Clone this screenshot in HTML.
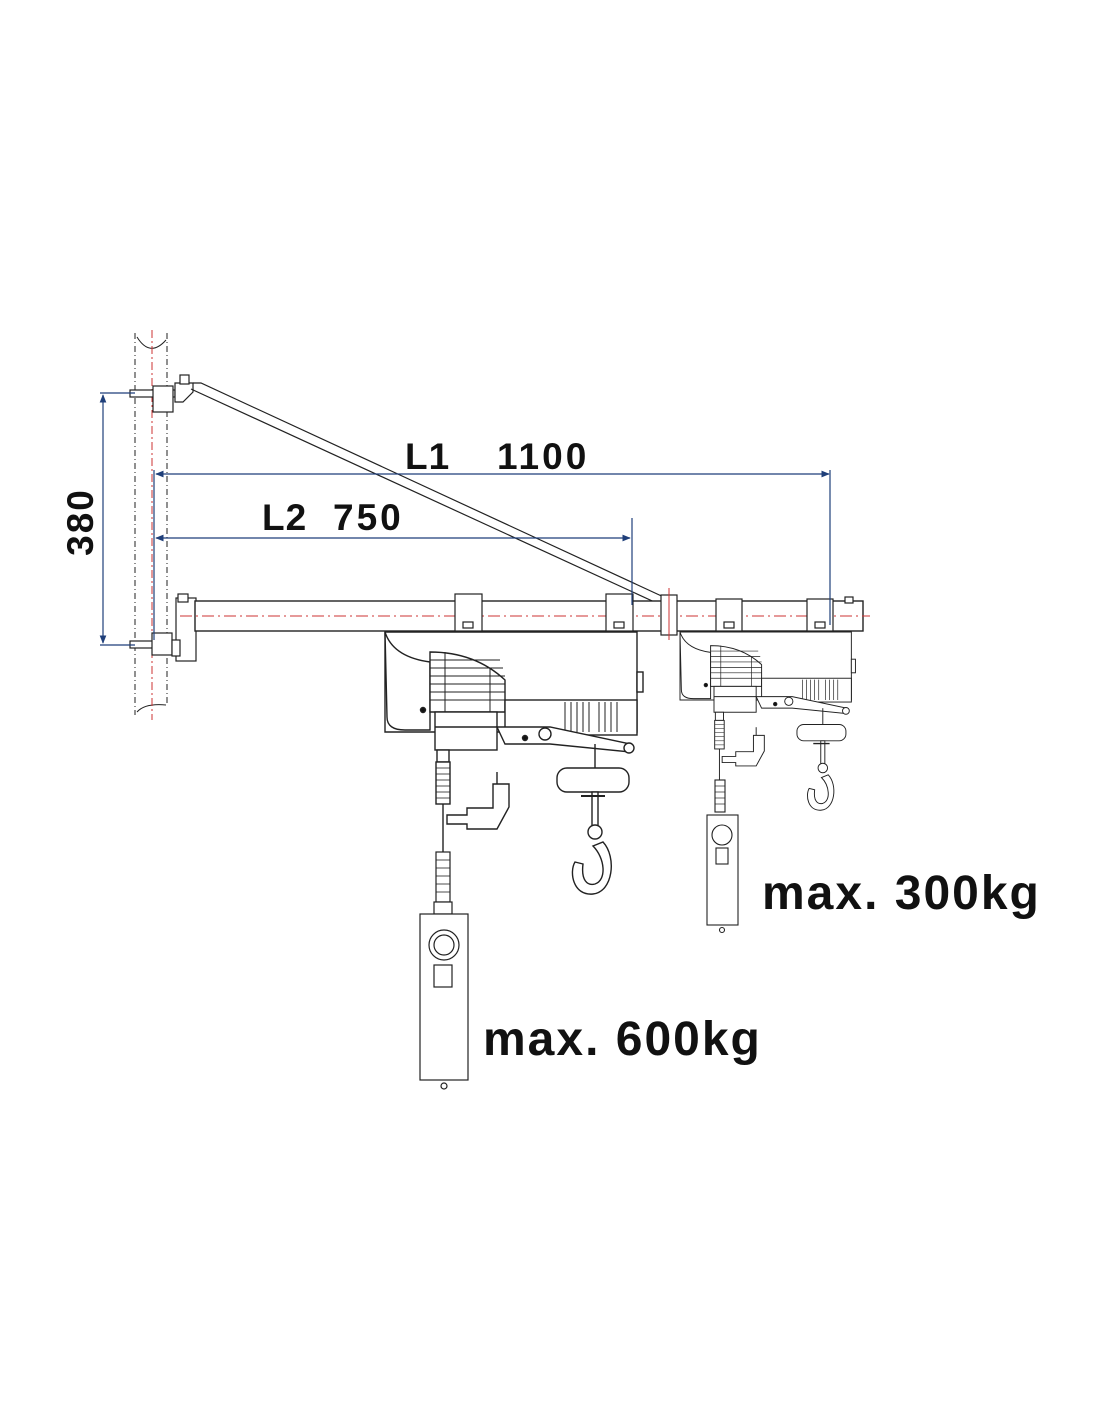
<!DOCTYPE html>
<html><head><meta charset="utf-8"><style>
html,body{margin:0;padding:0;background:#fff}
svg{display:block}
text{font-family:"Liberation Sans",sans-serif;font-weight:bold;fill:#111}
</style></head><body>
<svg width="1100" height="1422" viewBox="0 0 1100 1422" xmlns="http://www.w3.org/2000/svg">
<defs>
<marker id="a" viewBox="0 0 10 10" refX="9" refY="5" markerWidth="7" markerHeight="7" orient="auto-start-reverse"><path d="M0,1 L10,5 L0,9 z" fill="#1f3f7a"/></marker>
<g id="hoist" fill="#fff" stroke="#222" stroke-width="1.4">
  <path d="M0,0 H252 V100 H0 Z"/>
  <path d="M0,0 Q8,25 45,30 V98 H20 Q2,98 2,85 Z"/>
  <rect x="252" y="40" width="6" height="20"/>
  <path d="M45,20 Q90,20 120,48 V80 H45 Z"/>
  <g stroke-width="1"><line x1="45" y1="28" x2="115" y2="28"/><line x1="45" y1="36" x2="118" y2="36"/><line x1="45" y1="44" x2="120" y2="44"/><line x1="45" y1="52" x2="120" y2="52"/><line x1="45" y1="60" x2="120" y2="60"/><line x1="45" y1="68" x2="120" y2="68"/><line x1="60" y1="20" x2="60" y2="80"/><line x1="105" y1="36" x2="105" y2="80"/></g>
  <circle cx="38" cy="78" r="2.5" fill="#111"/>
  <rect x="120" y="68" width="132" height="35"/>
  <g stroke-width="1"><line x1="180" y1="70" x2="180" y2="100"/><line x1="186" y1="70" x2="186" y2="100"/><line x1="192" y1="70" x2="192" y2="100"/><line x1="198" y1="70" x2="198" y2="100"/><line x1="204" y1="70" x2="204" y2="100"/><line x1="214" y1="70" x2="214" y2="100"/><line x1="220" y1="70" x2="220" y2="100"/><line x1="226" y1="70" x2="226" y2="100"/><line x1="232" y1="70" x2="232" y2="100"/></g>
  <rect x="50" y="80" width="62" height="38"/>
  <line x1="50" y1="95" x2="112" y2="95"/>
  <path d="M112,95 L165,95 L245,112 L245,120 L165,112 L120,112 Z"/>
  <circle cx="244" cy="116" r="5"/>
  <circle cx="160" cy="102" r="6"/>
  <circle cx="140" cy="106" r="2.5" fill="#111"/>
  <line x1="210" y1="112" x2="210" y2="136"/>
  <rect x="172" y="136" width="72" height="24" rx="10"/>
  <rect x="207" y="160" width="6" height="40"/>
  <line x1="196" y1="164" x2="220" y2="164" stroke-width="2"/>
  <circle cx="210" cy="200" r="7"/>
  <path d="M218,210 C232,225 228,260 208,262 C188,264 184,240 190,230 L198,232 C196,248 202,254 210,252 C222,248 220,226 208,214 Z"/>
  <rect x="52" y="118" width="12" height="12"/>
  <rect x="51" y="130" width="14" height="42"/>
  <g stroke-width="0.8"><line x1="51" y1="136" x2="65" y2="136"/><line x1="51" y1="142" x2="65" y2="142"/><line x1="51" y1="148" x2="65" y2="148"/><line x1="51" y1="154" x2="65" y2="154"/><line x1="51" y1="160" x2="65" y2="160"/><line x1="51" y1="166" x2="65" y2="166"/></g>
  <line x1="58" y1="172" x2="58" y2="220"/>
  <path d="M62,183 H82 V176 H108 V152 H124 V175 L112,197 H82 V192 H62 Z"/>
  <line x1="112" y1="140" x2="112" y2="152"/>
</g>
</defs>

<g stroke="#222" stroke-width="1" fill="none">
<line x1="135" y1="333" x2="135" y2="715" stroke-dasharray="6,3,1,3"/>
<line x1="167" y1="333" x2="167" y2="705" stroke-dasharray="6,3,1,3"/>
<path d="M137,337 Q150,358 166,340"/>
<path d="M137,712 Q145,703 166,705"/>
</g>
<line x1="152" y1="330" x2="152" y2="720" stroke="#c33" stroke-width="1" stroke-dasharray="8,3,2,3"/>

<g fill="#fff" stroke="#222" stroke-width="1.2">
<rect x="130" y="390" width="45" height="7"/>
<rect x="153" y="386" width="20" height="26"/>
<path d="M175,383 H193 V392 L183,402 H175 Z"/>
<rect x="180" y="375" width="9" height="9"/>
<rect x="130" y="641" width="50" height="7"/>
<rect x="152" y="633" width="20" height="22"/>
<rect x="176" y="598" width="20" height="63"/>
<rect x="178" y="594" width="10" height="8"/>
<rect x="172" y="640" width="8" height="16"/>
</g>

<g stroke="#222" stroke-width="1.2" fill="none">
<path d="M193,383 L201,383 L668,599"/>
<path d="M191,389 L661,605"/>
</g>

<rect x="195" y="601" width="668" height="30" fill="#fff" stroke="#222" stroke-width="1.4"/>
<line x1="180" y1="616" x2="870" y2="616" stroke="#c33" stroke-width="1" stroke-dasharray="12,4,2,4"/>
<g fill="#fff" stroke="#222" stroke-width="1.2">
<rect x="455" y="594" width="27" height="37"/><rect x="463" y="622" width="10" height="6"/>
<rect x="606" y="594" width="27" height="37"/><rect x="614" y="622" width="10" height="6"/>
<rect x="716" y="599" width="26" height="32"/><rect x="724" y="622" width="10" height="6"/>
<rect x="807" y="599" width="26" height="32"/><rect x="815" y="622" width="10" height="6"/>
<rect x="661" y="595" width="16" height="40"/>
<rect x="845" y="597" width="8" height="6"/>
</g>
<line x1="669" y1="588" x2="669" y2="640" stroke="#c33" stroke-width="1"/>

<use href="#hoist" x="385" y="632"/>
<g fill="#fff" stroke="#222" stroke-width="1.2">
<rect x="436" y="852" width="14" height="50"/>
<g stroke-width="0.8"><line x1="436" y1="860" x2="450" y2="860"/><line x1="436" y1="868" x2="450" y2="868"/><line x1="436" y1="876" x2="450" y2="876"/><line x1="436" y1="884" x2="450" y2="884"/><line x1="436" y1="892" x2="450" y2="892"/></g>
<rect x="434" y="902" width="18" height="12"/>
<rect x="420" y="914" width="48" height="166"/>
<circle cx="444" cy="945" r="15"/><circle cx="444" cy="945" r="10"/>
<rect x="434" y="965" width="18" height="22"/>
<circle cx="444" cy="1086" r="3"/>
</g>
<g transform="translate(680,632) scale(0.68)"><use href="#hoist"/></g>
<g fill="#fff" stroke="#222" stroke-width="1.1">
<rect x="715" y="780" width="10" height="32"/>
<g stroke-width="0.7"><line x1="715" y1="786" x2="725" y2="786"/><line x1="715" y1="792" x2="725" y2="792"/><line x1="715" y1="798" x2="725" y2="798"/><line x1="715" y1="804" x2="725" y2="804"/></g>
<rect x="707" y="815" width="31" height="110"/>
<circle cx="722" cy="835" r="10"/>
<rect x="716" y="848" width="12" height="16"/>
<circle cx="722" cy="930" r="2.5"/>
</g>

<g stroke="#1f3f7a" stroke-width="1.2" fill="none">
<line x1="103" y1="395" x2="103" y2="643" marker-start="url(#a)" marker-end="url(#a)"/>
<line x1="100" y1="393" x2="135" y2="393"/>
<line x1="100" y1="645" x2="135" y2="645"/>
<line x1="154" y1="470" x2="154" y2="640"/>
<line x1="156" y1="474" x2="829" y2="474" marker-start="url(#a)" marker-end="url(#a)"/>
<line x1="830" y1="470" x2="830" y2="625"/>
<line x1="156" y1="538" x2="630" y2="538" marker-start="url(#a)" marker-end="url(#a)"/>
<line x1="632" y1="518" x2="632" y2="605"/>
</g>

<text x="405" y="469" font-size="37" letter-spacing="1">L1</text>
<text x="497" y="469" font-size="37" letter-spacing="3">1100</text>
<text x="262" y="530" font-size="37" letter-spacing="1">L2</text>
<text x="333" y="530" font-size="37" letter-spacing="3">750</text>
<text transform="translate(93,522) rotate(-90)" font-size="37" text-anchor="middle" letter-spacing="2">380</text>
<text x="762" y="909" font-size="48" letter-spacing="2">max. 300kg</text>
<text x="483" y="1055" font-size="48" letter-spacing="2">max. 600kg</text>
</svg>
</body></html>
